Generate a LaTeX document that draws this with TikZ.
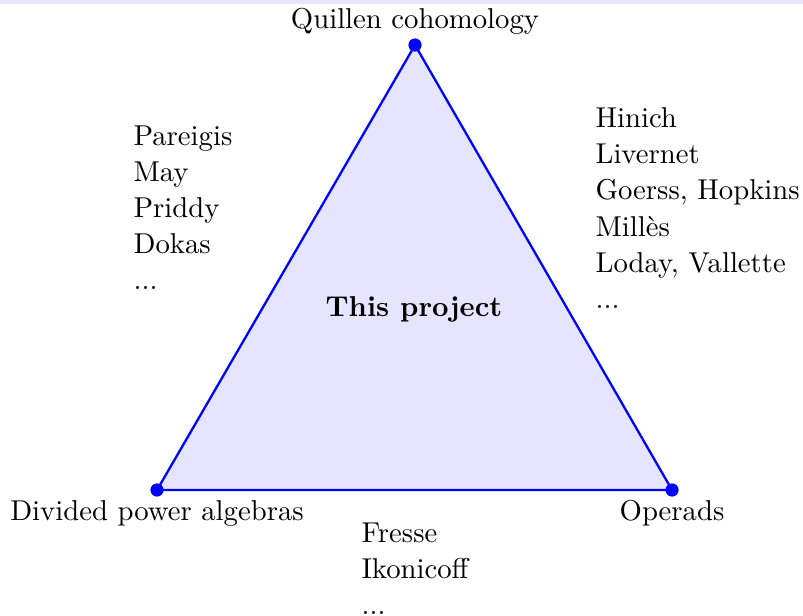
\documentclass[tikz,border=0pt]{standalone}
\usepackage{tikz}

\begin{document}
\begin{tikzpicture}[
    vertex/.style={
        circle,
        fill=blue,
        inner sep=0pt,
        minimum size=4.6pt
    },
    corner/.style={
        font=\normalsize
    },
    authors/.style={
        anchor=north west,
        inner sep=0pt,
        align=left,
        font=\fontsize{10}{12.6}\selectfont
    }
]

    % ==========================================
    % FRAME
    % ==========================================
    \useasboundingbox (-1.922,-1.530) rectangle (7.907,5.998);
    \fill[blue!10] (-1.922,5.950) rectangle (7.907,5.998);

    % ==========================================
    % TRIANGLE
    % ==========================================
    \coordinate (Top) at (3.158, 5.447);
    \coordinate (Left) at (0.0, 0.0);
    \coordinate (Right) at (6.304, 0.0);

    \draw[thick, blue, fill=blue!10] (Top) -- (Left) -- (Right) -- cycle;

    \node[vertex] (QuillenVtx) at (Top) {};
    \node[vertex] (DividedVtx) at (Left) {};
    \node[vertex] (OperadsVtx) at (Right) {};

    % Corner labels
    \node[corner, above] (Quillen) at (Top) {Quillen cohomology};
    \node[corner, below] (Divided) at (Left) {Divided power algebras};
    \node[corner, below] (Operads) at (Right) {Operads};

    % Centre
    \node[font=\bfseries] (Project) at (3.146, 2.205) {This project};

    % ==========================================
    % AUTHORS ALONG THE SIDES
    % ==========================================
    \node[authors] (LeftSide) at (-0.294, 4.468) {Pareigis\\May\\Priddy\\Dokas\\...};
    \node[authors] (RightSide) at (5.361, 4.688) {Hinich\\Livernet\\Goerss, Hopkins\\Mill\`es\\Loday, Vallette\\...};
    \node[authors] (BottomSide) at (2.497, -0.392) {Fresse\\Ikonicoff\\...};

\end{tikzpicture}
\end{document}
